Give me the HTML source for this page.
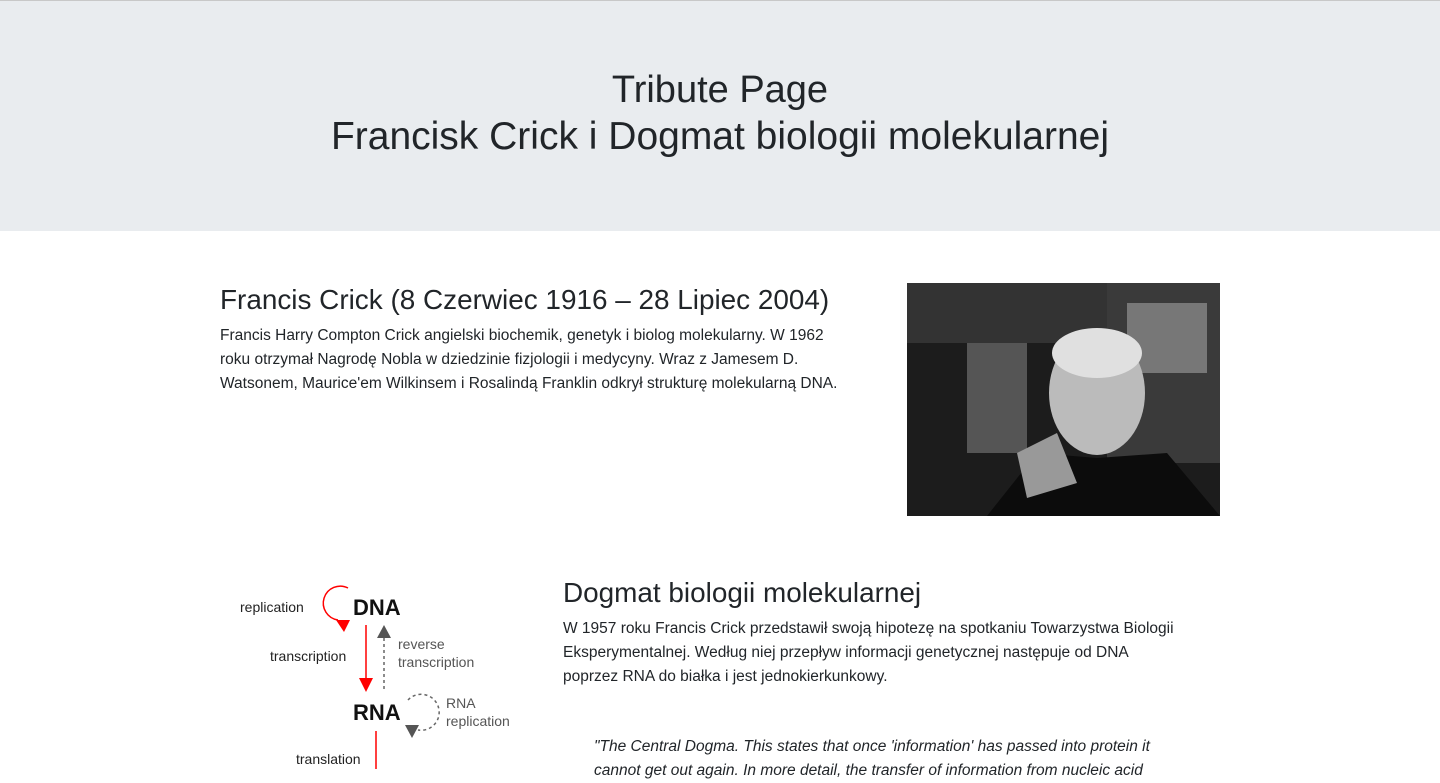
<!DOCTYPE html>
<html><head><meta charset="utf-8"><style>
*{margin:0;padding:0;box-sizing:border-box}
body{width:1440px;height:769px;overflow:hidden;background:#fff;font-family:"Liberation Sans",sans-serif;color:#212529;position:relative}
.hdr{position:absolute;left:0;top:0;width:1440px;height:231px;background:#e9ecef;border-top:1px solid #c8c8c8}
.t{position:absolute;left:0;width:1440px;text-align:center;font-size:39px;line-height:48px;color:#212529}
h2{position:absolute;font-size:27.9px;line-height:32px;font-weight:normal}
p{position:absolute;font-size:15.5px;line-height:24px}
</style></head><body>
<div class="hdr">
<div class="t" style="top:65px;font-size:38px">Tribute Page</div>
<div class="t" style="top:112px">Francisk Crick i Dogmat biologii molekularnej</div>
</div>
<h2 style="left:220px;top:284px">Francis Crick (8 Czerwiec 1916 – 28 Lipiec 2004)</h2>
<p style="left:220px;top:324px;width:625px">Francis Harry Compton Crick angielski biochemik, genetyk i biolog molekularny. W 1962 roku otrzymał Nagrodę Nobla w dziedzinie fizjologii i medycyny. Wraz z Jamesem D. Watsonem, Maurice'em Wilkinsem i Rosalindą Franklin odkrył strukturę molekularną DNA.</p>
<svg style="position:absolute;left:907px;top:283px" width="313" height="233">
<rect width="313" height="233" fill="#1c1c1c"/>
<rect x="0" y="0" width="313" height="60" fill="#333"/>
<rect x="200" y="0" width="113" height="180" fill="#3a3a3a"/>
<rect x="220" y="20" width="80" height="70" fill="#777"/>
<rect x="60" y="60" width="60" height="110" fill="#555"/>
<ellipse cx="190" cy="110" rx="48" ry="62" fill="#bbb"/>
<ellipse cx="190" cy="70" rx="45" ry="25" fill="#e0e0e0"/>
<path d="M80 233 L130 170 L190 175 L260 170 L313 233 Z" fill="#0c0c0c"/>
<path d="M110 170 L150 150 L170 200 L120 215 Z" fill="#999"/>
</svg>
<svg style="position:absolute;left:220px;top:570px" width="320" height="199" font-family="Liberation Sans,sans-serif">
<text x="20" y="42" font-size="14" fill="#222">replication</text>
<path d="M128 18 A17 17 0 1 0 118 50" fill="none" stroke="red" stroke-width="1.5"/>
<polygon points="116,50 130,50 124,62" fill="red"/>
<text x="133" y="45" font-size="22" font-weight="bold" fill="#111">DNA</text>
<text x="50" y="91" font-size="14" fill="#222">transcription</text>
<line x1="146" y1="55" x2="146" y2="110" stroke="red" stroke-width="1.5"/>
<polygon points="139,108 153,108 146,122" fill="red"/>
<line x1="164" y1="68" x2="164" y2="120" stroke="#666" stroke-width="1.5" stroke-dasharray="3,3"/>
<polygon points="157,68 171,68 164,55" fill="#555"/>
<text x="178" y="79" font-size="14" fill="#555">reverse</text>
<text x="178" y="97" font-size="14" fill="#555">transcription</text>
<text x="133" y="150" font-size="22" font-weight="bold" fill="#111">RNA</text>
<path d="M188 130 A18 18 0 1 1 198 160" fill="none" stroke="#666" stroke-width="1.5" stroke-dasharray="3,3"/>
<polygon points="185,155 199,155 192,168" fill="#555"/>
<text x="226" y="138" font-size="14" fill="#555">RNA</text>
<text x="226" y="156" font-size="14" fill="#555">replication</text>
<line x1="156" y1="161" x2="156" y2="199" stroke="red" stroke-width="1.5"/>
<text x="76" y="194" font-size="14" fill="#222">translation</text>
</svg>
<h2 style="left:563px;top:577px">Dogmat biologii molekularnej</h2>
<p style="left:563px;top:617px;width:617px">W 1957 roku Francis Crick przedstawił swoją hipotezę na spotkaniu Towarzystwa Biologii Eksperymentalnej. Według niej przepływ informacji genetycznej następuje od DNA poprzez RNA do białka i jest jednokierkunkowy.</p>
<p style="left:594px;top:735px;width:600px;font-style:italic">"The Central Dogma. This states that once 'information' has passed into protein it cannot get out again. In more detail, the transfer of information from nucleic acid</p>
</body></html>
